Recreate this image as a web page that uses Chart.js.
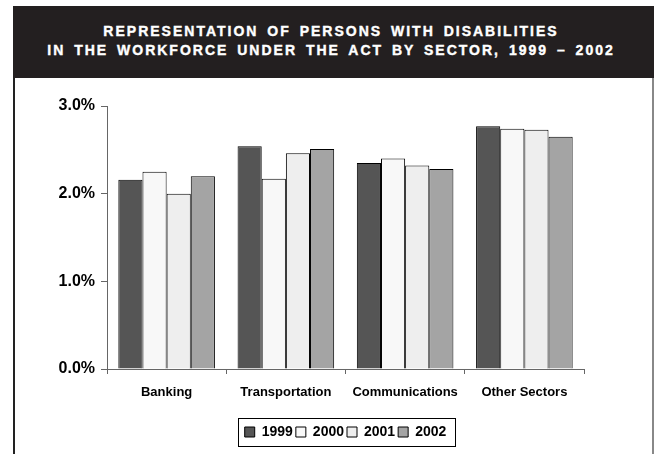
<!DOCTYPE html>
<html>
<head>
<meta charset="utf-8">
<script src="https://cdn.jsdelivr.net/npm/chart.js@4"></script>
<style>
  body { margin: 0; background: #fff; width: 654px; height: 454px; overflow: hidden; position: relative; font-family: "Liberation Sans", Arial, sans-serif; }
  #banner {
    position: absolute; left: 13px; top: 6px; width: 641px; height: 72px;
    background: #231f20; color: #fff; font-weight: bold; font-size: 14px;
    letter-spacing: 2px; word-spacing: 3px; text-align: center; line-height: 18.5px;
    box-sizing: border-box; padding-top: 16px; padding-right: 5px;
    -webkit-text-stroke: 0.4px #fff;
  }
  #frame {
    position: absolute; left: 13px; top: 78px; width: 637px; height: 400px;
    border-left: 2px solid #222; border-right: 2px solid #888;
  }
  #wrap { position: absolute; left: 0; top: 78px; width: 654px; height: 376px; }
</style>
</head>
<body>
<div id="banner">REPRESENTATION OF PERSONS WITH DISABILITIES<br>IN THE WORKFORCE UNDER THE ACT BY SECTOR, 1999 – 2002</div>
<div id="frame"></div>
<div id="wrap"><canvas id="myChart"></canvas></div>
<script>
// data
const sectors = ["Banking", "Transportation", "Communications", "Other Sectors"];
const years = ["1999", "2000", "2001", "2002"];
const v1999 = [2.16, 2.54, 2.35, 2.77];
const v2000 = [2.25, 2.17, 2.40, 2.74];
const v2001 = [2.00, 2.46, 2.32, 2.73];
const v2002 = [2.20, 2.51, 2.28, 2.65];
const yTicks = [0, 1, 2, 3];

const colors = ["#555555", "#f8f8f8", "#eeeeee", "#a4a4a4"];
const series = [v1999, v2000, v2001, v2002];

Chart.defaults.font.family = '"Liberation Sans", Arial, sans-serif';
Chart.defaults.color = "#000";

// box round the legend
const legendBox = {
  id: "legendBox",
  afterDraw(chart) {
    const boxes = chart.legend.legendHitBoxes;
    if (!boxes || !boxes.length) return;
    const first = boxes[0], last = boxes[boxes.length - 1];
    const cy = first.top + first.height / 2;
    const c = chart.ctx;
    c.save();
    c.strokeStyle = "#000";
    c.lineWidth = 1;
    c.strokeRect(Math.round(first.left - 7) + 0.5, Math.round(cy - 14) + 0.5,
      Math.round(last.left + last.width - first.left + 15), 28);
    c.restore();
  }
};

const ctx = document.getElementById("myChart").getContext("2d");
const myChart = new Chart(ctx, {
  type: "bar",
  data: {
    labels: sectors,
    datasets: years.map((y, i) => ({
      label: y,
      data: series[i],
      backgroundColor: colors[i],
      borderColor: "#000",
      borderWidth: 1,
      categoryPercentage: 0.81,
      barPercentage: 1,
    })),
  },
  options: {
    responsive: true,
    maintainAspectRatio: false,
    animation: false,
    layout: { padding: { top: 28, right: 70, bottom: 5, left: 0 } },
    plugins: {
      title: { display: false },
      tooltip: { enabled: false },
      legend: {
        position: "bottom",
        fullSize: false,
        labels: {
          boxWidth: 10,
          boxHeight: 10,
          padding: 3,
          font: { size: 14, weight: "bold" },
        },
      },
    },
    scales: {
      x: {
        grid: { drawOnChartArea: false, color: "#666", tickLength: 5 },
        border: { color: "#666" },
        ticks: { font: { size: 13, weight: "bold" }, padding: 11 },
        afterFit: (s) => { s.height = 53; },
      },
      y: {
        min: 0,
        max: 3,
        afterBuildTicks: (s) => { s.ticks = yTicks.map((v) => ({ value: v })); },
        grid: { drawOnChartArea: false, color: "#666", tickLength: 6 },
        border: { color: "#666" },
        ticks: {
          font: { size: 16, weight: "bold" },
          padding: 6,
          callback: (v) => v.toFixed(1) + "%",
        },
        afterFit: (s) => { s.width = 107; },
      },
    },
  },
  plugins: [legendBox],
});
</script>
</body>
</html>
